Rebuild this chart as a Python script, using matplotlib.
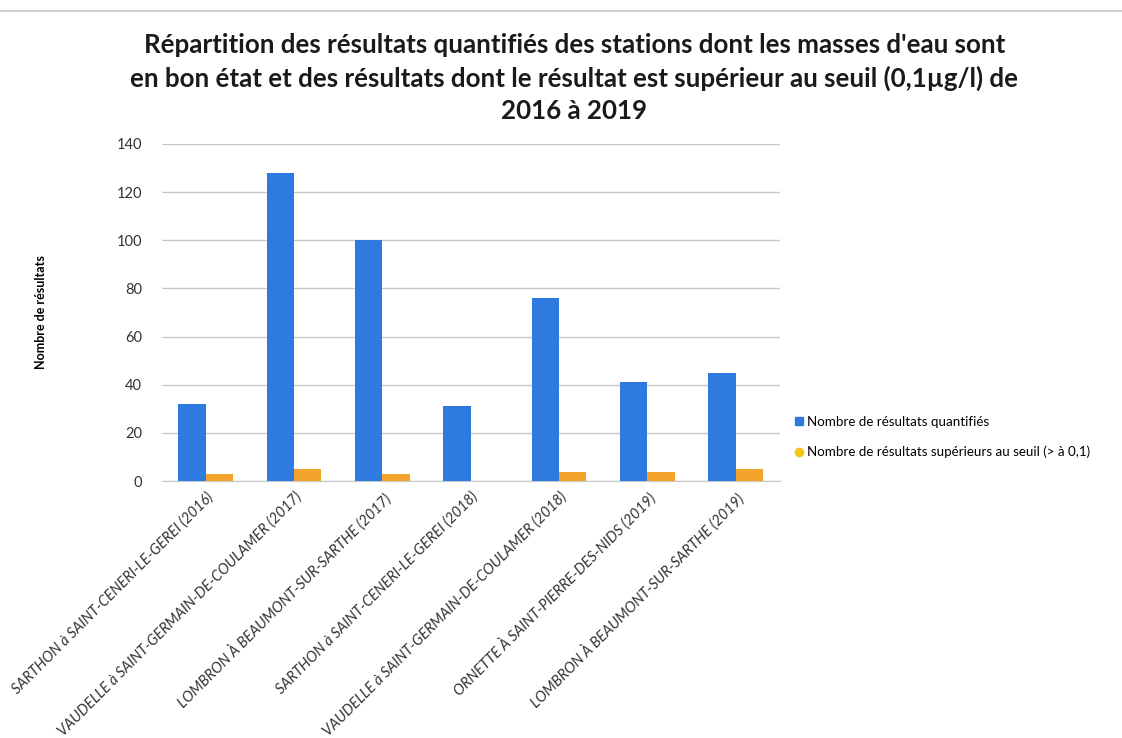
import matplotlib
matplotlib.use("Agg")
import matplotlib.pyplot as plt
import numpy as np
from matplotlib.lines import Line2D

categories = [
    "SARTHON à SAINT-CENERI-LE-GEREI (2016)",
    "VAUDELLE à SAINT-GERMAIN-DE-COULAMER (2017)",
    "LOMBRON À BEAUMONT-SUR-SARTHE (2017)",
    "SARTHON à SAINT-CENERI-LE-GEREI (2018)",
    "VAUDELLE à SAINT-GERMAIN-DE-COULAMER (2018)",
    "ORNETTE À SAINT-PIERRE-DES-NIDS (2019)",
    "LOMBRON À BEAUMONT-SUR-SARTHE (2019)",
]
quantifies = [32, 128, 100, 31, 76, 41, 45]
superieurs = [3, 5, 3, 0, 4, 4, 5]
series_names = ["Nombre de résultats quantifiés",
                "Nombre de résultats supérieurs au seuil (> à 0,1)"]
yticks = [0, 20, 40, 60, 80, 100, 120, 140]

plt.rcParams['font.family'] = ['Lato', 'DejaVu Sans']

fig = plt.figure(figsize=(11.22, 7.38), dpi=100)
ax = fig.add_axes([0.144, 0.348, 0.551, 0.457])

blue = "#2f7ae0"
orange = "#f2a42a"
x = np.arange(len(categories))
w = 0.31
ax.bar(x - w/2, quantifies, w, color=blue, zorder=3)
ax.bar(x + w/2, superieurs, w, color=orange, zorder=3)

ax.set_xlim(-0.5, len(categories) - 0.5)
ax.set_ylim(0, 140)
ax.set_yticks(yticks)
ax.set_yticklabels([str(v) for v in yticks], fontsize=10.5, color="#333333")
ax.yaxis.grid(True, color="#c8c8c8", linewidth=1, zorder=0)
for s in ["top", "right", "left"]:
    ax.spines[s].set_visible(False)
ax.spines["bottom"].set_color("#c8c8c8")
ax.tick_params(axis="y", length=0, pad=14)
ax.tick_params(axis="x", length=0, pad=6)
ax.set_xticks(x)
ax.set_xticklabels(categories, rotation=45, ha="right", rotation_mode="anchor",
                   fontsize=10.5, style="italic", color="#333333")

ax.set_ylabel("Nombre de résultats", fontsize=9, fontweight="bold", labelpad=50)

fig.text(0.512, 0.834,
         "Répartition des résultats quantifiés des stations dont les masses d'eau sont\n"
         "en bon état et des résultats dont le résultat est supérieur au seuil (0,1µg/l) de\n"
         "2016 à 2019",
         ha="center", va="bottom", fontsize=18.6, fontweight="bold",
         linespacing=1.4, color="#1a1a1a")

handles = [Line2D([0], [0], marker="s", color="none", markerfacecolor=blue,
                  markeredgecolor=blue, markersize=6),
           Line2D([0], [0], marker="o", color="none", markerfacecolor="#f5c518",
                  markeredgecolor="#f5c518", markersize=6)]
fig.legend(handles, series_names, loc="center left", bbox_to_anchor=(0.704, 0.408),
           frameon=False, fontsize=9.6, handlelength=0.6, handletextpad=0.25,
           labelspacing=1.35, borderaxespad=0.0)

fig.add_artist(Line2D([0.0, 1.0], [0.985, 0.985], color="#d0d0d0", linewidth=1.5,
                      transform=fig.transFigure))

fig.savefig("out.png", dpi=100, facecolor="white")
